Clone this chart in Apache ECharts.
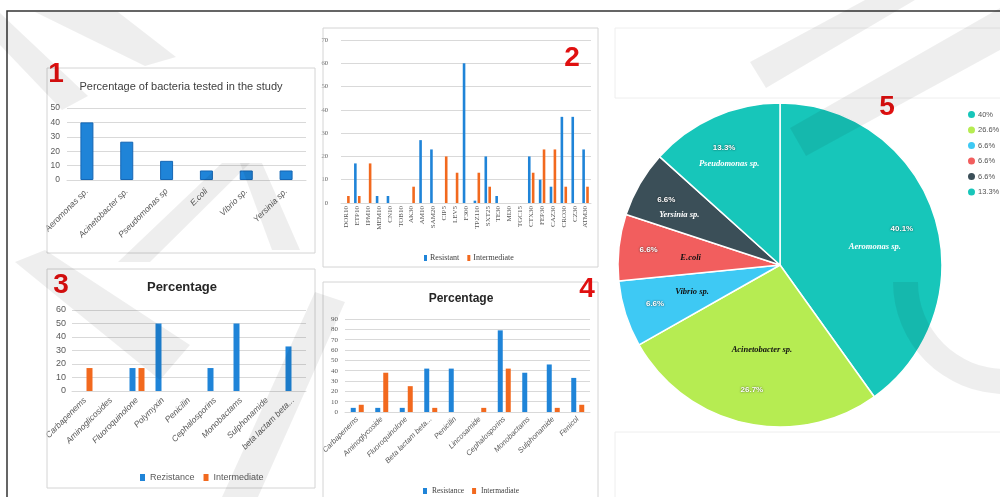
<!DOCTYPE html>
<html><head><meta charset="utf-8">
<script src="https://cdn.jsdelivr.net/npm/echarts@6/dist/echarts.min.js"></script>
<style>html,body{margin:0;padding:0;background:#fff}#c{width:1000px;height:497px}</style>
</head><body><div id="c"></div>
<script>
// ---------- DATA ----------
const bacteria = ['Aeromonas sp.','Acinetobacter sp.','Pseudomonas sp','E.coli','Vibrio sp.','Yersinia sp.'];
const bacteriaPct = [40, 26.6, 13.3, 6.6, 6.6, 6.6];

const antibiotics = ['DOR10','ETP10','IPM10','MEM10','CN10','TOB10','AK30','AM10','SAM20','CIP5','LEV5','F300','TPZ110','SXT25','TE30','MI30','TGC15','CTX30','FEP30','CAZ30','CRO30','CZ30','ATM30'];
const abResistant    = [0,17,0,3,3,0,0,27,23,0,0,60,1,20,3,0,0,20,10,7,37,37,23];
const abIntermediate = [3,3,17,0,0,0,7,0,0,20,13,0,13,7,0,0,0,13,23,23,7,0,7];

const classes3 = ['Carbapenems','Aminoglicosides','Fluoroquinolone','Polymyxin','Penicilin','Cephalosporins','Monobactams','Sulphonamide','beta lactam beta...'];
const res3 = [0,0,17,50,0,17,50,0,33];
const int3 = [17,0,17,0,0,0,0,0,0];

const classes4 = ['Carbapenems','Aminoglycoside','Fluoroquinolone','Beta lactam beta...','Penicilin','Lincosamide','Cephalosporins','Monobactams','Sulphonamide','Fenicol'];
const res4 = [4,4,4,42,42,0,79,38,46,33];
const int4 = [7,38,25,4,0,4,42,0,4,7];

const pieNames  = ['Aeromonas sp.','Acinetobacter sp.','Vibrio sp.','E.coli','Yersinia sp.','Pseudomonas sp.'];
const pieValues = [40, 26.6, 6.6, 6.6, 6.6, 13.3];
const pieLabels = ['40.1%','26.7%','6.6%','6.6%','6.6%','13.3%'];
const pieLegend = ['40%','26.6%','6.6%','6.6%','6.6%','13.3%'];

// ---------- STYLE ----------
const BLUE = '#1f84d8', ORANGE = '#f2691e';
const SANS = "'Liberation Sans Narrow','Liberation Sans',sans-serif";
const SERIF = "'Liberation Serif','DejaVu Serif',serif";
const PIE_COLORS = ['#17c6ba','#b6ec52','#3ec9f4','#f25e5e','#3b4f58','#17c6ba'];
const PIE_CX = 780, PIE_CY = 265;
const PIE_LABEL_R = [112, 107, 110, 110, 122, 122];   // label distance from centre (layout)

function yAx(gi, max, fs, ff, margin){
  return {gridIndex:gi, type:'value', min:0, max:max, interval:10,
    axisLine:{show:false}, axisTick:{show:false},
    axisLabel:{fontSize:fs, fontFamily:ff, color:'#595959', margin:margin},
    splitLine:{lineStyle:{color:'#d9d9d9', width:1}}};
}
function xAx(gi, data, rot, fs, ff, fstyle, margin){
  return {gridIndex:gi, type:'category', data:data,
    axisLine:{lineStyle:{color:'#d9d9d9'}}, axisTick:{show:false},
    axisLabel:{rotate:rot, interval:0, fontSize:fs, fontFamily:ff, fontStyle:fstyle, color:'#595959', margin:margin}};
}

// pie label styles (per slice text arrangement)
const pw = {color:'#fff', fontSize:8, fontWeight:'bold', fontFamily:"'Liberation Sans',sans-serif", textShadowColor:'rgba(0,0,0,0.7)', textShadowBlur:2};
const nw = {color:'#fff', fontSize:8.5, fontWeight:'bold', fontStyle:'italic', fontFamily:SERIF};
const nd = {color:'#111', fontSize:8.5, fontWeight:'bold', fontStyle:'italic', fontFamily:SERIF};
const mk = (base, extra) => Object.assign({}, base, extra);

function pieFmt(i){
  const p = pieLabels[i], n = pieNames[i];
  if (i === 1) return '{b|' + n + '}\n{s| }\n{a|' + p + '}';
  if (i === 2) return '{b|' + n + '}\n{a|' + p + '}';
  return '{a|' + p + '}\n{b|' + n + '}';
}
const pieLabelRich = [
  {a:mk(pw,{padding:[0,0,0,28], lineHeight:24}), b:mk(nw,{padding:[0,26,0,0], lineHeight:12})},
  {b:mk(nd,{padding:[0,0,0,10], lineHeight:12}), s:{fontSize:4, lineHeight:28}, a:mk(pw,{padding:[0,10,0,0], lineHeight:12})},
  {b:mk(nd,{padding:[0,0,0,34], lineHeight:12}), a:mk(pw,{padding:[0,40,0,0], lineHeight:12})},
  {a:mk(pw,{padding:[0,44,0,0], lineHeight:8}), b:mk(nd,{padding:[0,0,0,40], lineHeight:8})},
  {a:mk(pw,{padding:[0,14,0,0], lineHeight:18}), b:mk(nw,{padding:[0,0,0,12], lineHeight:12})},
  {a:mk(pw,{padding:[0,10,0,0], lineHeight:20}), b:mk(nw,{lineHeight:12})}
];

const pieData = pieNames.map((n,i)=>({
  name:n, value:pieValues[i],
  itemStyle:{color:PIE_COLORS[i]},
  label:{formatter:pieFmt(i), rich:pieLabelRich[i]}
}));

// ---------- WATERMARK / FRAMES ----------
const WM = 'rgba(0,0,0,0.065)';
const NUMFONT = "bold 28px 'Liberation Sans Narrow','Liberation Sans',sans-serif";
function num(t, x, y){
  return {type:'text', x:x, y:y, z:60, style:{text:t, fill:'#e01010', font:NUMFONT,
    align:'center', verticalAlign:'middle', textAlign:'center', textVerticalAlign:'middle'}};
}
function wm(points){ return {type:'polygon', z:100, silent:true, shape:{points:points}, style:{fill:WM}}; }
const graphics = [
  // outer frame
  {type:'polyline', shape:{points:[[7,497],[7,11],[1000,11]]}, style:{stroke:'#333', lineWidth:1.5, fill:null}, z:5},
  // panel boxes
  {type:'rect', shape:{x:47,y:68,width:268,height:185}, style:{stroke:'#d4d4d4', fill:null, lineWidth:1}, z:1},
  {type:'rect', shape:{x:323,y:28,width:275,height:239}, style:{stroke:'#d4d4d4', fill:null, lineWidth:1}, z:1},
  {type:'rect', shape:{x:47,y:269,width:268,height:219}, style:{stroke:'#d4d4d4', fill:null, lineWidth:1}, z:1},
  {type:'rect', shape:{x:323,y:282,width:275,height:230}, style:{stroke:'#d4d4d4', fill:null, lineWidth:1}, z:1},
  {type:'rect', shape:{x:615,y:28,width:400,height:70}, style:{stroke:'#eeeeee', fill:null, lineWidth:1}, z:1},
  {type:'rect', shape:{x:615,y:432,width:400,height:80}, style:{stroke:'#eeeeee', fill:null, lineWidth:1}, z:1},
  // red panel numbers
  num('1', 56, 74), num('2', 572, 58), num('3', 61, 285), num('4', 587, 289), num('5', 887, 107),
  // watermark
  wm([[750,62],[766,88],[915,0],[865,0]]),
  wm([[790,128],[806,156],[1000,50],[1000,8]]),
  {type:'sector', z:100, silent:true, shape:{cx:1005, cy:282, r:112, r0:87, startAngle:Math.PI/2, endAngle:Math.PI}, style:{fill:WM}},
  wm([[0,13],[0,45],[62,110],[88,96]]),
  wm([[35,12],[118,12],[176,57],[145,66]]),
  wm([[222,163],[250,163],[150,262],[118,262]]),
  wm([[240,163],[262,163],[300,250],[272,250]]),
  wm([[315,292],[345,302],[258,497],[222,497]]),
  wm([[15,262],[45,250],[190,345],[160,380]])
];

// ---------- CHART ----------
const chart = echarts.init(document.getElementById('c'));
chart.setOption({
  animation:false,
  backgroundColor:'#fff',
  title:[
    {text:'Percentage of bacteria tested in the study', left:181, top:81, textAlign:'center', padding:0,
      textStyle:{fontSize:11, fontWeight:'normal', fontFamily:SANS, color:'#404040'}},
    {text:'Percentage', left:182, top:281, textAlign:'center', padding:0,
      textStyle:{fontSize:13, fontWeight:'bold', fontFamily:SANS, color:'#262626'}},
    {text:'Percentage', left:461, top:293, textAlign:'center', padding:0,
      textStyle:{fontSize:12, fontWeight:'bold', fontFamily:SANS, color:'#262626'}}
  ],
  grid:[
    {left:67, top:108, width:239, height:72},
    {left:341, top:40, width:250, height:163},
    {left:72, top:310, width:234, height:81},
    {left:345, top:319, width:245, height:93}
  ],
  xAxis:[
    xAx(0, bacteria, 45, 8.5, SANS, 'italic', 10),
    xAx(1, antibiotics, 90, 7, SERIF, 'normal', 3),
    xAx(2, classes3, 45, 8.5, SANS, 'italic', 8),
    xAx(3, classes4, 45, 7.5, SANS, 'italic', 6)
  ],
  yAxis:[
    yAx(0, 50, 8.5, SANS, 7),
    yAx(1, 70, 6.5, SERIF, 13),
    yAx(2, 60, 9, SANS, 6),
    yAx(3, 90, 7, SERIF, 7)
  ],
  legend:[
    {data:['Resistant','Intermediate'], left:419, top:249, icon:'rect', itemWidth:3, itemHeight:6, itemGap:8,
      textStyle:{fontSize:8, fontFamily:SERIF, color:'#404040', padding:[0,0,0,-2]}},
    {data:['Rezistance','Intermediate'], left:135, top:468, icon:'rect', itemWidth:5, itemHeight:7, itemGap:9,
      textStyle:{fontSize:9, fontFamily:SANS, color:'#595959'}},
    {data:['Resistance','Intermadiate'], left:418, top:482, icon:'rect', itemWidth:4, itemHeight:6, itemGap:8,
      textStyle:{fontSize:7.5, fontFamily:SERIF, color:'#404040'}},
    {data:pieNames, orient:'vertical', left:966, top:109, icon:'circle', itemWidth:9, itemHeight:9, itemGap:4.5, padding:0,
      formatter:function(name){ return pieLegend[pieNames.indexOf(name)]; },
      textStyle:{fontSize:7.5, fontFamily:"'Liberation Sans',sans-serif", color:'#555', padding:[0,0,0,-3]}}
  ],
  series:[
    {type:'bar', name:'Bacteria', xAxisIndex:0, yAxisIndex:0, data:bacteriaPct, barWidth:13,
      itemStyle:{color:BLUE, borderColor:'#1566b4', borderWidth:1}},
    {type:'bar', name:'Resistant', xAxisIndex:1, yAxisIndex:1, data:abResistant, barWidth:2.6, barGap:'50%', itemStyle:{color:BLUE}},
    {type:'bar', name:'Intermediate', xAxisIndex:1, yAxisIndex:1, data:abIntermediate, barWidth:2.6, barGap:'50%', itemStyle:{color:ORANGE}},
    {type:'bar', name:'Rezistance', xAxisIndex:2, yAxisIndex:2, data:res3, barWidth:6, barGap:'50%', itemStyle:{color:BLUE}},
    {type:'bar', name:'Intermediate', xAxisIndex:2, yAxisIndex:2, data:int3, barWidth:6, barGap:'50%', itemStyle:{color:ORANGE}},
    {type:'bar', name:'Resistance', xAxisIndex:3, yAxisIndex:3, data:res4, barWidth:5, barGap:'60%', itemStyle:{color:BLUE}},
    {type:'bar', name:'Intermadiate', xAxisIndex:3, yAxisIndex:3, data:int4, barWidth:5, barGap:'60%', itemStyle:{color:ORANGE}},
    {type:'pie', name:'Bacteria share', center:[PIE_CX, PIE_CY], radius:162, startAngle:90, clockwise:true,
      legendHoverLink:false, avoidLabelOverlap:false,
      itemStyle:{borderColor:'#fff', borderWidth:1.5},
      label:{show:true, position:'inside'},
      labelLine:{show:false},
      labelLayout:function(p){
        const r = p.labelRect;
        const lx = r.x + r.width/2, ly = r.y + r.height/2;
        const dx = lx - PIE_CX, dy = ly - PIE_CY, d = Math.sqrt(dx*dx + dy*dy) || 1;
        const R = PIE_LABEL_R[p.dataIndex];
        return {x: PIE_CX + dx/d*R, y: PIE_CY + dy/d*R, align:'center', verticalAlign:'middle'};
      },
      data:pieData}
  ],
  graphic:graphics
});
</script>
</body></html>
